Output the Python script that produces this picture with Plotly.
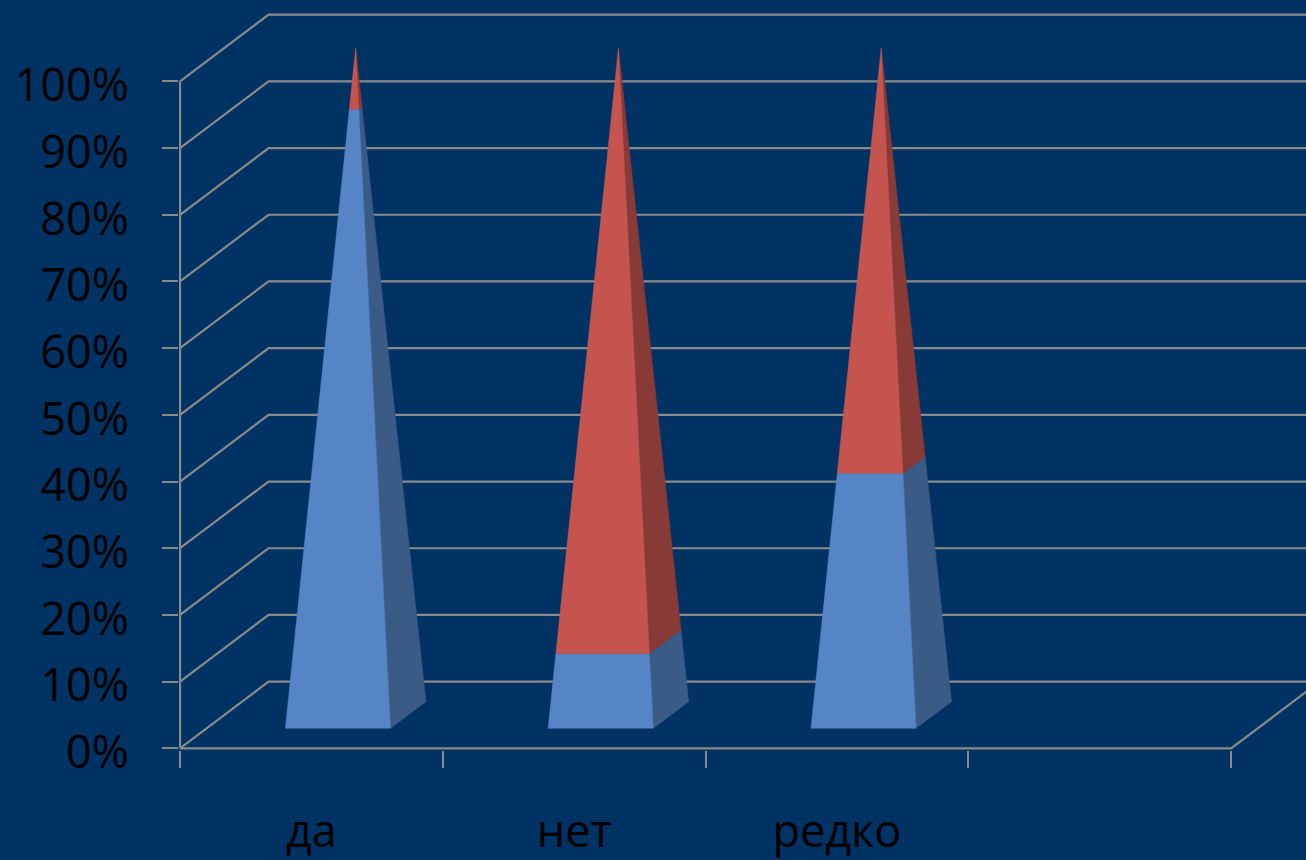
import plotly.graph_objects as go

categories = ["да", "нет", "редко"]
blue_values = [91, 11, 37.5]
red_values = [9, 89, 62.5]
percent_ticks = [0, 10, 20, 30, 40, 50, 60, 70, 80, 90, 100]
tick_labels = ["0%", "10%", "20%", "30%", "40%", "50%", "60%", "70%", "80%", "90%", "100%"]

BG = "#003263"
GRID = "#8a8a8a"
BLUE, BLUE_SIDE = "#5585C5", "#3A5B85"
RED, RED_SIDE = "#C5544F", "#873A36"

DEPTH_X = 0.337      # oblique shift of the back wall, in category slots
DEPTH_Y = 10.0       # oblique shift of the back wall, in percent
HALF_W = 0.2         # half base width, in slots
NEAR, FAR = 0.3, 0.7 # depth of the pyramid base inside the chart floor
SLOT_L, SLOT_R = -0.5, 3.5
X_RANGE = [-0.5038, 3.785]
Y_RANGE = [-0.25, 112.2]


def corner(center, side, depth, level):
    """Project a pyramid corner (side -1/1, depth NEAR/FAR) cut at a level in percent."""
    k = 1 - level / 100
    d = 0.5 + (depth - 0.5) * k
    return center + side * HALF_W * k + d * DEPTH_X, level + d * DEPTH_Y


def poly(points, color, name):
    xs = [p[0] for p in points]
    ys = [p[1] for p in points]
    return go.Scatter(x=xs + xs[:1], y=ys + ys[:1], mode="lines", fill="toself",
                      fillcolor=color, line=dict(color=color, width=0.5),
                      hoverinfo="skip", showlegend=False, name=name)


def line(xs, ys):
    return go.Scatter(x=xs, y=ys, mode="lines", line=dict(color=GRID, width=2.2),
                      hoverinfo="skip", showlegend=False)


fig = go.Figure()

# walls
for v in percent_ticks:
    fig.add_trace(line([SLOT_L, SLOT_L + DEPTH_X, SLOT_R + DEPTH_X],
                       [v, v + DEPTH_Y, v + DEPTH_Y]))
fig.add_trace(line([SLOT_L, SLOT_L], [0, 100]))
fig.add_trace(line([SLOT_L, SLOT_R, SLOT_R + DEPTH_X], [0, 0, DEPTH_Y]))

# pyramids
for i, cat in enumerate(categories):
    low = 0
    for value, face, side in ((blue_values[i], BLUE, BLUE_SIDE), (red_values[i], RED, RED_SIDE)):
        top = low + value
        fig.add_trace(poly([corner(i, 1, NEAR, low), corner(i, 1, FAR, low),
                            corner(i, 1, FAR, top), corner(i, 1, NEAR, top)], side, cat))
        fig.add_trace(poly([corner(i, -1, NEAR, low), corner(i, 1, NEAR, low),
                            corner(i, 1, NEAR, top), corner(i, -1, NEAR, top)], face, cat))
        low = top

FONT = "Open Sans"
fig.update_layout(
    width=1306, height=860,
    margin=dict(l=179, r=0, t=0, b=110, pad=0),
    paper_bgcolor=BG, plot_bgcolor=BG,
    showlegend=False,
    xaxis=dict(range=X_RANGE, showgrid=False, zeroline=False, showline=False,
               automargin=False,
               tickmode="array", tickvals=list(range(len(categories))), ticktext=categories,
               ticks="", ticklabelstandoff=51,
               tickfont=dict(family=FONT, size=45, color="#000000"),
               minor=dict(ticks="outside", ticklen=17, tickwidth=2, tickcolor=GRID,
                          tickmode="array",
                          tickvals=[-0.5, 0.5, 1.5, 2.5, 3.5], showgrid=False)),
    yaxis=dict(range=Y_RANGE, showgrid=False, zeroline=False, showline=False,
               automargin=False,
               tickmode="array", tickvals=percent_ticks, ticktext=tick_labels,
               ticks="outside", ticklen=16, tickwidth=2, tickcolor=GRID,
               ticklabelstandoff=24, ticklabelshift=4,
               tickfont=dict(family=FONT, size=45, color="#000000")),
)

fig.write_html("out.html", config={"displayModeBar": False},
               post_script="document.body.style.margin='0';document.body.style.overflow='hidden';")
